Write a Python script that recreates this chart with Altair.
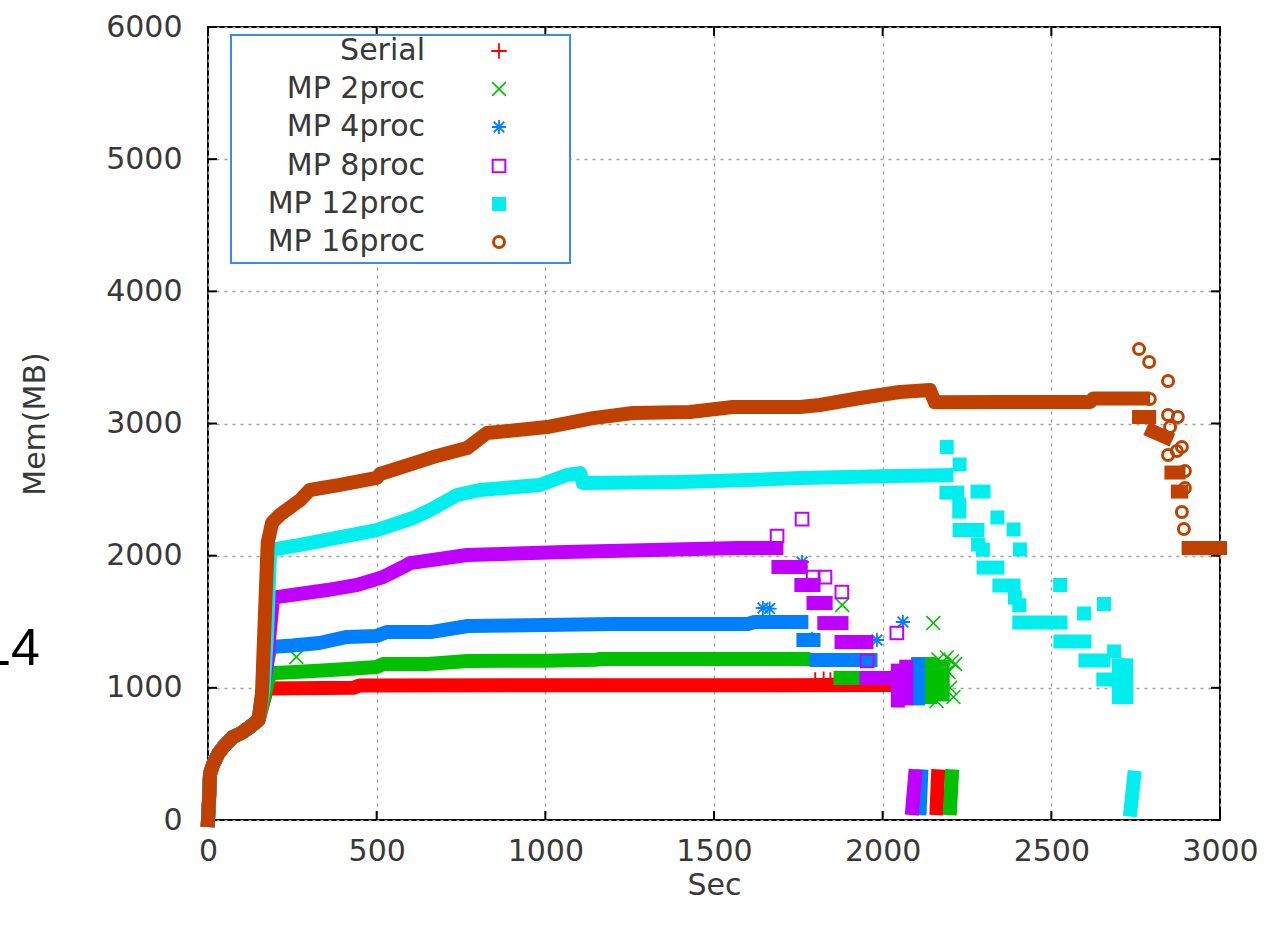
import altair as alt
import pandas as pd

# ---------------- data ----------------
SERIES = ["Serial", "MP 2proc", "MP 4proc", "MP 8proc", "MP 12proc", "MP 16proc"]
COLORS = ["#ff0000", "#00c000", "#0080ff", "#c000ff", "#00eeee", "#c04000"]

X_TICKS = [0, 500, 1000, 1500, 2000, 2500, 3000]
Y_TICKS = [0, 1000, 2000, 3000, 4000, 5000, 6000]

# shared start-up ramp (all runs overlap here)
RAMP_SEC = [0, 3, 6, 15, 30, 45, 74, 100, 124]
RAMP_MB = [0, 150, 350, 420, 500, 552, 628, 660, 704]

# dense sample runs (drawn as bands), each (sec list, MB list)
SERIAL_BANDS = [
    ([150, 165, 175, 430, 450, 2030], [757, 900, 995, 1000, 1018, 1021]),
    ([2160, 2164], [90, 330]),
]
SERIAL_PTS_SEC = [1800, 1825, 1845, 1862, 2120]
SERIAL_PTS_MB = [1060, 1065, 1060, 1070, 1000]

MP2_BANDS = [
    ([150, 168, 184, 300, 400, 500, 520, 650, 770, 1000, 1150, 1160, 1765],
     [757, 950, 1110, 1125, 1140, 1158, 1180, 1180, 1203, 1205, 1212, 1218, 1218]),
    ([1875, 1912], [1075, 1075]),
    ([2140, 2140], [930, 1180]),
    ([2178, 2178], [950, 1160]),
    ([2200, 2205], [90, 330]),
]
MP2_PTS_SEC = [262, 1880, 2150, 2205, 2210, 2195, 2200, 2190, 2215, 2165, 2160]
MP2_PTS_MB = [1233, 1627, 1490, 1200, 930, 1120, 1000, 1230, 1180, 1215, 900]

MP4_BANDS = [
    ([150, 170, 184, 250, 330, 412, 500, 530, 660, 770, 1000, 1200, 1600, 1620, 1759],
     [757, 1100, 1309, 1320, 1339, 1385, 1392, 1422, 1422, 1468, 1475, 1483, 1483, 1498, 1498]),
    ([1765, 1795], [1362, 1362]),
    ([1804, 1964], [1211, 1211]),
    ([2105, 2105], [920, 1180]),
    ([2110, 2114], [90, 330]),
]
MP4_PTS_SEC = [1645, 1665, 1761, 1983, 2060, 1790]
MP4_PTS_MB = [1604, 1600, 1952, 1362, 1498, 1370]

MP8_BANDS = [
    ([150, 175, 193, 213, 353, 441, 519, 578, 599, 768, 1058, 1319, 1571, 1685],
     [757, 1200, 1687, 1690, 1740, 1778, 1838, 1914, 1944, 2005, 2028, 2043, 2058, 2058]),
    ([1691, 1757], [1914, 1914]),
    ([1759, 1795], [1778, 1778]),
    ([1795, 1831], [1642, 1642]),
    ([1827, 1878], [1490, 1490]),
    ([1878, 1952], [1347, 1347]),
    ([1952, 2012], [1074, 1074]),
    ([2045, 2045], [904, 1130]),
    ([2070, 2070], [920, 1160]),
    ([2088, 2096], [90, 330]),
]
MP8_PTS_SEC = [1687, 1761, 1794, 1829, 1879, 2042, 1954]
MP8_PTS_MB = [2149, 2277, 1838, 1838, 1725, 1415, 1203]

MP12_BANDS = [
    ([150, 165, 175, 184, 273, 500, 608, 658, 738, 806, 984, 1064, 1103, 1111, 1399, 1598, 1755, 2000, 2189],
     [757, 1000, 1400, 2043, 2081, 2194, 2285, 2345, 2459, 2497, 2535, 2610, 2625, 2550, 2557, 2572, 2588, 2600, 2610]),
    ([2189, 2221], [2477, 2477]),
    ([2227, 2227], [2387, 2334]),
    ([2281, 2299], [2485, 2485]),
    ([2228, 2281], [2194, 2194]),
    ([2299, 2340], [1910, 1910]),
    ([2346, 2388], [1774, 1774]),
    ([2405, 2527], [1494, 1494]),
    ([2527, 2598], [1350, 1350]),
    ([2601, 2654], [1207, 1207]),
    ([2654, 2684], [1063, 1063]),
    ([2700, 2700], [930, 1170]),
    ([2722, 2722], [930, 1170]),
    ([2735, 2745], [80, 320]),
]
MP12_PTS_SEC = [2190, 2228, 2340, 2388, 2407, 2526, 2597, 2656, 2686, 2283, 2297, 2392, 2405]
MP12_PTS_MB = [2822, 2690, 2289, 2198, 2047, 1778, 1562, 1634, 1275, 2084, 2045, 1683, 1625]

MP16_BANDS = [
    ([150, 160, 168, 177, 190, 213, 273, 302, 391, 500, 510, 667, 768, 827, 1005, 1141, 1260, 1429,
      1556, 1755, 1814, 1933, 2051, 2140, 2155, 2348, 2615, 2625, 2772],
     [757, 960, 1500, 2100, 2250, 2308, 2421, 2497, 2535, 2588, 2618, 2746, 2814, 2928, 2973, 3041, 3079, 3087,
      3125, 3125, 3140, 3193, 3238, 3253, 3160, 3163, 3163, 3190, 3190]),
    ([2760, 2790], [3049, 3049]),
    ([2800, 2840], [2940, 2895]),
    ([2856, 2877], [2629, 2629]),
    ([2875, 2885], [2485, 2485]),
    ([2907, 3000], [2058, 2058]),
]
MP16_PTS_SEC = [2760, 2790, 2846, 2792, 2846, 2875, 2852, 2887, 2872, 2846, 2896, 2896, 2887, 2893]
MP16_PTS_MB = [3563, 3465, 3322, 3185, 3064, 3049, 2973, 2822, 2792, 2762, 2641, 2512, 2330, 2202]

ALL_BANDS = [SERIAL_BANDS, MP2_BANDS, MP4_BANDS, MP8_BANDS, MP12_BANDS, MP16_BANDS]
ALL_PTS = [(SERIAL_PTS_SEC, SERIAL_PTS_MB), (MP2_PTS_SEC, MP2_PTS_MB), (MP4_PTS_SEC, MP4_PTS_MB),
           (MP8_PTS_SEC, MP8_PTS_MB), (MP12_PTS_SEC, MP12_PTS_MB), (MP16_PTS_SEC, MP16_PTS_MB)]

# ---------------- styling ----------------
W, H = 1012, 793
FONT = "DejaVu Sans"
TXT = "#383838"

PLUS = "M-1,0H1M0,-1V1"
CROSS = "M-1,-1L1,1M-1,1L1,-1"
STAR = "M-1,0H1M0,-1V1M-0.75,-0.75L0.75,0.75M-0.75,0.75L0.75,-0.75"

MARKS = [
    dict(kind="point", shape=PLUS, size=240, strokeWidth=1.8),
    dict(kind="point", shape=CROSS, size=190, strokeWidth=1.6),
    dict(kind="point", shape=STAR, size=200, strokeWidth=1.8),
    dict(kind="point", shape="square", size=160, strokeWidth=2),
    dict(kind="square", size=196),
    dict(kind="point", shape="circle", size=120, strokeWidth=3),
]

X = alt.X("sec:Q", scale=alt.Scale(domain=[0, 3000], nice=False, zero=False),
          axis=alt.Axis(values=X_TICKS, title="Sec", grid=True, gridDash=[3, 5], gridColor="#a0a0a0",
                        gridWidth=1.5, ticks=False, tickSize=0, domain=False, labelFontSize=30,
                        labelPadding=16, labelColor=TXT, labelFont=FONT, titleFont=FONT, titleFontSize=30,
                        titleFontWeight="normal", titleColor=TXT, titleY=65, titleBaseline="middle",
                        format="d", labelFlush=False, labelOverlap=False))
Y = alt.Y("mb:Q", scale=alt.Scale(domain=[0, 6000], nice=False, zero=False),
          axis=alt.Axis(values=Y_TICKS, title="Mem(MB)", grid=True, gridDash=[3, 5], gridColor="#a0a0a0",
                        gridWidth=1.5, ticks=False, tickSize=0, domain=False, labelFontSize=30,
                        labelPadding=26, labelColor=TXT, labelFont=FONT, titleFont=FONT, titleFontSize=30,
                        titleFontWeight="normal", titleColor=TXT, titleX=-173, titleY=H / 2,
                        titleAngle=270, titleBaseline="middle", format="d", labelOverlap=False))


def band_frame(bands, with_ramp):
    rows = []
    for s, (secs, mbs) in enumerate(bands):
        xs, ys = list(secs), list(mbs)
        if s == 0 and with_ramp:
            xs, ys = RAMP_SEC + xs, RAMP_MB + ys
        for i, (a, b) in enumerate(zip(xs, ys)):
            rows.append({"seg": s, "i": i, "sec": a, "mb": b})
    return pd.DataFrame(rows)


def point_mark(spec, color, **extra):
    if spec["kind"] == "square":
        return alt.Chart(**extra).mark_square(filled=True, color=color, size=spec["size"], opacity=1)
    return alt.Chart(**extra).mark_point(filled=False, shape=spec["shape"], size=spec["size"],
                                         strokeWidth=spec["strokeWidth"], color=color, opacity=1)


layers = []

# inward tick marks on all four sides
yt = pd.DataFrame({"mb": Y_TICKS})
xt = pd.DataFrame({"sec": X_TICKS})
layers.append(alt.Chart(yt).mark_rule(color="black", strokeWidth=2).encode(y=Y, x=alt.value(0), x2=alt.value(9)))
layers.append(alt.Chart(yt).mark_rule(color="black", strokeWidth=2).encode(y=Y, x=alt.value(W - 9), x2=alt.value(W)))
layers.append(alt.Chart(xt).mark_rule(color="black", strokeWidth=2).encode(x=X, y=alt.value(H), y2=alt.value(H - 9)))
layers.append(alt.Chart(xt).mark_rule(color="black", strokeWidth=2).encode(x=X, y=alt.value(0), y2=alt.value(9)))

for k in range(len(SERIES)):
    df = band_frame(ALL_BANDS[k], True)
    layers.append(
        alt.Chart(df).mark_line(color=COLORS[k], strokeWidth=14, strokeCap="square", strokeJoin="round")
        .encode(x=X, y=Y, detail="seg:N", order="i:Q")
    )
    ps, pm = ALL_PTS[k]
    pdf = pd.DataFrame({"sec": ps, "mb": pm})
    layers.append(point_mark(MARKS[k], COLORS[k], data=pdf).encode(x=X, y=Y))

# legend box (drawn by hand: labels right-aligned, markers on the right)
one = pd.DataFrame({"k": [0]})
layers.append(alt.Chart(one).mark_rect(fill="white", stroke="#3b8beb", strokeWidth=2).encode(
    x=alt.value(23), x2=alt.value(362), y=alt.value(8), y2=alt.value(236)))
ROW_Y = [24, 62, 100, 139, 177, 215]
for k, name in enumerate(SERIES):
    layers.append(alt.Chart(one).mark_text(text=name, align="right", baseline="middle", font=FONT,
                                           fontSize=30, color=TXT)
                  .encode(x=alt.value(217), y=alt.value(ROW_Y[k])))
    layers.append(point_mark(MARKS[k], COLORS[k], data=one).encode(x=alt.value(291), y=alt.value(ROW_Y[k])))

# stray page text at the left edge
layers.append(alt.Chart(one).mark_text(text="14", align="right", baseline="alphabetic",
                                       font="Liberation Sans", fontSize=52, color="black")
              .encode(x=alt.value(40 - 208), y=alt.value(665 - 27)))

chart = alt.layer(*layers).properties(
    width=W, height=H,
    autosize=alt.AutoSizeParams(type="none"),
    padding={"left": 208, "top": 27, "right": 44, "bottom": 105},
).configure_view(stroke="black", strokeWidth=2)

chart.save("out.html", embed_options={"renderer": "svg", "actions": False})
